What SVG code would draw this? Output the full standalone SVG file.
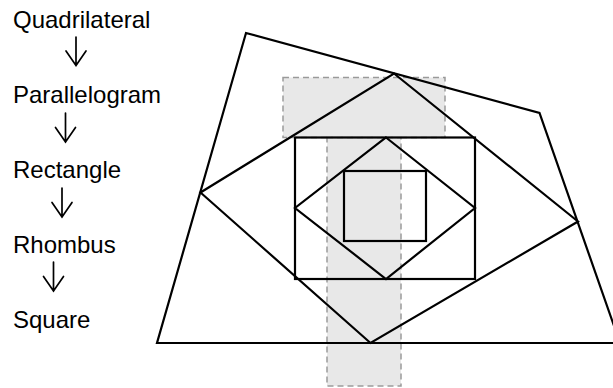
<svg xmlns="http://www.w3.org/2000/svg" width="613" height="388" viewBox="0 0 613 388">
<style>
.lbl{font-family:"Liberation Sans",Arial,sans-serif;font-size:24px;fill:#000}
.shade{fill:#e8e8e8;stroke:#9a9a9a;stroke-width:1.5;stroke-dasharray:6 4}
.fig{fill:none;stroke:#000;stroke-width:2.2;stroke-linejoin:miter}
.arr{fill:none;stroke:#000;stroke-width:1.7;stroke-linecap:round;stroke-linejoin:miter}
</style>
<rect width="613" height="388" fill="#fff"/>
<g id="node-quadrilateral"><text class="lbl" x="13" y="28">Quadrilateral</text></g>
<g id="node-parallelogram"><text class="lbl" x="13" y="102.5">Parallelogram</text></g>
<g id="node-rectangle"><text class="lbl" x="13" y="178">Rectangle</text></g>
<g id="node-rhombus"><text class="lbl" x="13" y="252.5">Rhombus</text></g>
<g id="node-square"><text class="lbl" x="13" y="327.5">Square</text></g>
<g id="connectors">
<path class="arr" d="M76 37V65.5M66 51L76 65.5L86 51"/>
<path class="arr" d="M65.5 113V142M55.5 127.5L65.5 142L75.5 127.5"/>
<path class="arr" d="M62 188V217M52 202.5L62 217L72 202.5"/>
<path class="arr" d="M53.5 262V291M43.5 276.5L53.5 291L63.5 276.5"/>
</g>
<g id="figure">
<rect class="shade" x="283" y="77.5" width="162" height="60"/>
<rect class="shade" x="327" y="137.5" width="74" height="248.5"/>
<polygon class="fig" points="246,33 539.5,113 620,343 157,343"/>
<polygon class="fig" points="394,73.5 578,221.5 370.5,343 200.5,192.5"/>
<rect class="fig" x="295" y="137.5" width="180" height="141.5"/>
<polygon class="fig" points="386,137.5 475,208 386,279 295,208"/>
<rect class="fig" x="344" y="171" width="82" height="70"/>
</g>
</svg>
